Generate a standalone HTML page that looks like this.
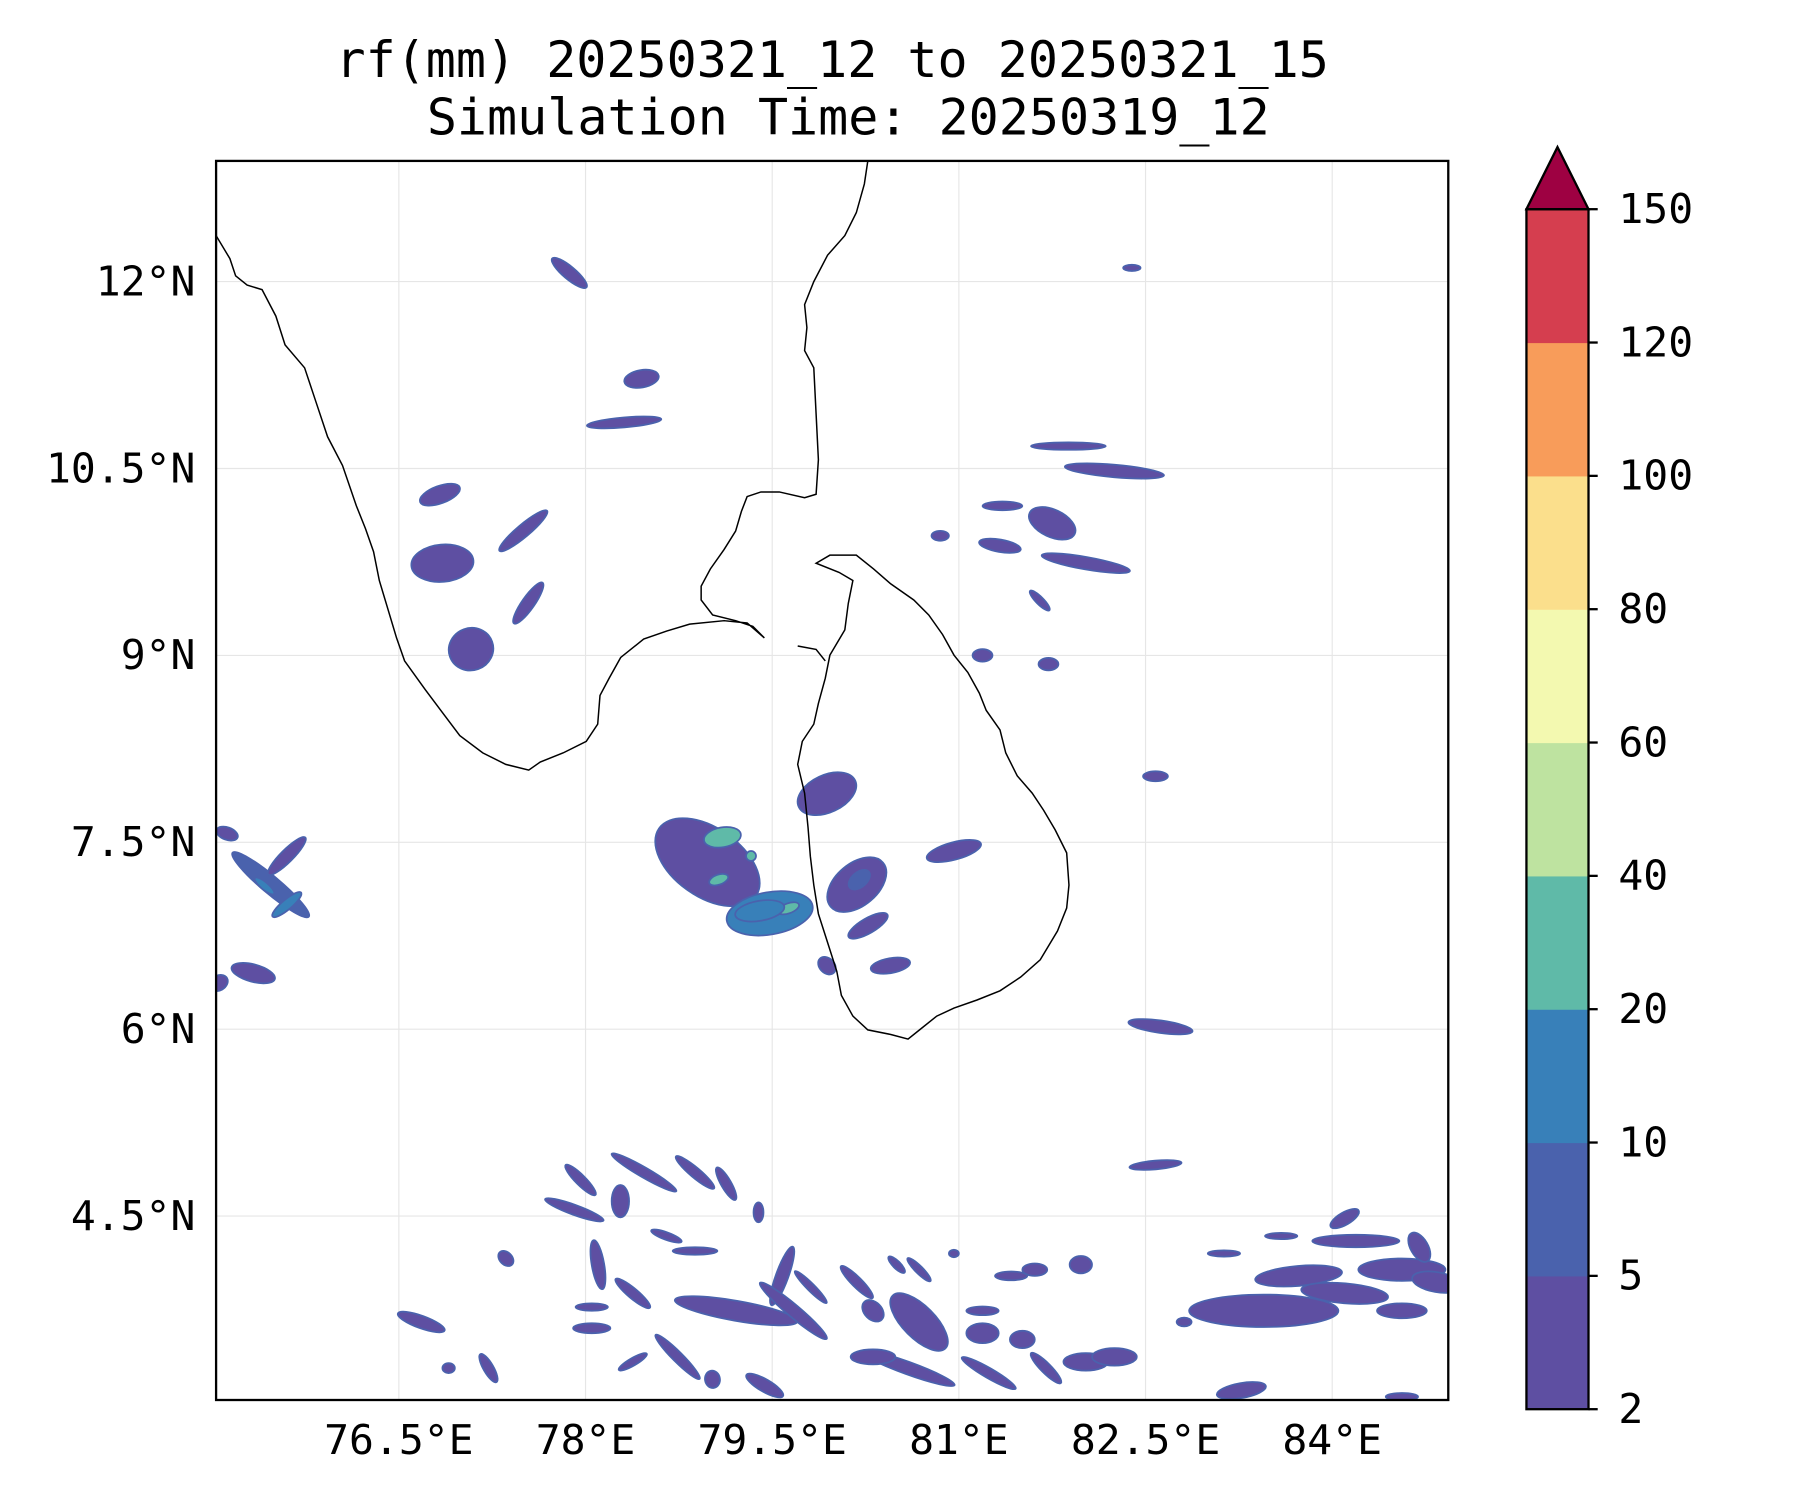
<!DOCTYPE html>
<html><head><meta charset="utf-8"><style>
html,body{margin:0;padding:0;background:#fff;}
svg{display:block;}
text{font-family:"DejaVu Sans Mono","Liberation Mono",monospace;fill:#000;}
</style></head>
<body>
<svg id="chart" width="1800" height="1500" viewBox="0 0 1566 1305" preserveAspectRatio="none" xmlns="http://www.w3.org/2000/svg">
<text x="724" y="67" font-size="43.5" text-anchor="middle">rf(mm) 20250321_12 to 20250321_15</text>
<text x="738" y="117" font-size="43.5" text-anchor="middle">Simulation Time: 20250319_12</text>
<defs><clipPath id="axclip"><rect x="188" y="140" width="1072" height="1078"/></clipPath></defs>
<g id="grid"></g>
<g id="rain" clip-path="url(#axclip)"></g>
<g clip-path="url(#axclip)" fill="none" stroke="#000" stroke-width="1.3">
<path d="M188,205 L200,225 L205,240 L215,248 L228,252 L240,275 L248,300 L265,320 L275,350 L285,380 L298,405 L310,440 L318,460 L325,480 L330,505 L336,525 L345,555 L352,575 L370,600 L385,620 L400,640 L420,655 L440,665 L460,670 L470,663 L490,655 L510,645 L520,630 L522,605 L530,590 L540,572 L560,556 L580,549 L600,543 L630,540 L650,542 L665,555 L655,545 L640,540 L620,535 L610,522 L610,510 L618,495 L630,478 L640,462 L645,445 L650,432 L662,428 L678,428 L700,433 L710,430 L712,400 L710,360 L708,320 L700,305 L702,285 L700,265 L708,245 L720,222 L735,205 L745,185 L752,160 L755,140"/>
<path d="M710,490 L722,483 L745,483 L760,495 L775,508 L795,522 L808,535 L820,552 L830,570 L842,585 L852,603 L858,618 L870,635 L875,655 L885,675 L898,690 L908,705 L918,722 L928,742 L930,770 L928,790 L920,810 L905,835 L888,850 L870,862 L850,870 L830,877 L815,884 L800,896 L790,904 L775,900 L755,896 L742,884 L732,866 L728,845 L720,820 L712,795 L708,770 L705,745 L703,720 L700,690 L694,665 L698,645 L708,630 L712,612 L718,590 L722,570 L735,548 L738,525 L742,505 L730,498 Z"/>
<path d="M694,562 L710,565 L718,575"/>
</g>
<rect x="188" y="140" width="1072" height="1078" fill="none" stroke="#000" stroke-width="2"/>
<g id="ticks"></g>
<g id="cbar"></g>
<script>
// ---- data ----
const latTicks=[12,10.5,9,7.5,6,4.5];
const latLabels=["12°N","10.5°N","9°N","7.5°N","6°N","4.5°N"];
const lonTicks=[76.5,78,79.5,81,82.5,84];
const lonLabels=["76.5°E","78°E","79.5°E","81°E","82.5°E","84°E"];
const cbLevels=[2,5,10,20,40,60,80,100,120,150];
const cbColors=["#5e4fa2","#4a62ad","#3880b9","#5fbaa8","#bee3a0","#f3f9b0","#fbdf8c","#f89c5a","#d53e4f"];
const extendColor="#9e0142";
// rain cells: centre lon, lat, width (deg), height (deg), rotation (deg), rainfall level (mm)
const cellLon=[77.87,78.45,78.31,76.83,76.85,77.5,77.54,77.08,79.94,78.98,79.48,80.18,80.96,80.45,80.27,79.94,75.47,75.6,75.12,75.33,75.05,81.75,82.02,81.33,82.25,81.88,81.35,82.62,82.58,82.58,81.19,81.72,81.65,80.85,82.39,75.6,
77.96,77.91,78.28,78.47,78.88,79.13,78.1,78.38,78.65,78.88,79.21,79.58,79.39,79.81,80.18,80.68,80.5,80.68,81.19,81.51,82.02,81.7,81.24,80.59,80.31,78.74,78.38,79.67,79.02,79.44,78.05,78.05,76.68,77.22,76.9,77.36,81.42,81.61,81.98,82.99,83.45,83.73,84.1,84.19,84.1,84.56,84.84,84.7,84.56,83.27,84.56,83.13,83.59,82.25,82.81,81.19,80.31,80.96];
const cellLat=[12.07,11.22,10.87,10.29,9.74,10.0,9.42,9.05,7.89,7.34,6.93,7.16,7.43,6.51,6.83,6.51,7.16,7.39,7.57,6.45,6.37,10.06,9.74,9.88,10.48,10.68,10.2,6.02,4.91,8.03,9.0,8.93,9.44,9.96,12.11,7.0,
4.79,4.55,4.62,4.85,4.85,4.76,4.11,3.88,4.34,4.22,3.74,4.02,4.53,3.93,3.97,3.65,4.11,4.07,3.56,3.51,3.33,3.28,3.24,3.28,3.37,3.37,3.33,3.74,3.19,3.14,3.6,3.77,3.65,3.28,3.28,4.16,4.02,4.07,4.11,3.74,3.74,4.02,3.88,4.3,4.48,4.07,3.97,4.25,3.74,3.1,3.05,4.2,4.34,3.37,3.65,3.74,3.74,4.2];
const cellW=[0.36,0.14,0.6,0.34,0.3,0.5,0.4,0.34,0.3,0.95,0.7,0.55,0.14,0.12,0.36,0.16,0.8,0.42,0.18,0.36,0.16,0.4,0.72,0.34,0.8,0.6,0.32,0.52,0.42,0.2,0.16,0.16,0.22,0.14,0.14,0.3,
0.34,0.5,0.14,0.6,0.4,0.3,0.4,0.36,0.26,0.36,1.0,0.5,0.08,0.36,0.36,0.6,0.18,0.26,0.26,0.2,0.36,0.34,0.5,0.8,0.36,0.5,0.26,0.7,0.14,0.34,0.3,0.26,0.4,0.26,0.1,0.14,0.26,0.2,0.18,0.2,1.2,0.7,0.7,0.7,0.26,0.7,0.4,0.26,0.4,0.4,0.26,0.26,0.26,0.36,0.12,0.26,0.2,0.08];
const cellH=[0.1,0.28,0.08,0.14,0.5,0.1,0.1,0.36,0.5,0.55,0.34,0.34,0.45,0.32,0.12,0.12,0.14,0.1,0.1,0.14,0.12,0.22,0.1,0.1,0.1,0.06,0.07,0.1,0.07,0.08,0.1,0.1,0.06,0.08,0.05,0.08,
0.08,0.08,0.26,0.08,0.08,0.08,0.1,0.08,0.06,0.06,0.16,0.1,0.16,0.06,0.08,0.26,0.06,0.06,0.16,0.14,0.14,0.08,0.08,0.1,0.12,0.08,0.06,0.1,0.12,0.1,0.08,0.06,0.1,0.08,0.08,0.1,0.07,0.1,0.14,0.07,0.26,0.16,0.16,0.1,0.1,0.18,0.16,0.14,0.12,0.12,0.06,0.05,0.05,0.14,0.07,0.07,0.14,0.06];
const cellAngle=[40,80,-5,-20,85,-40,-55,70,65,35,-10,-40,75,80,-30,45,40,-45,20,15,-30,25,10,10,5,0,0,8,-5,0,0,0,45,0,0,-40,
45,20,0,30,40,60,80,40,20,0,10,-70,0,45,45,45,45,45,0,0,0,45,30,20,0,45,-30,40,80,30,0,0,20,60,0,45,0,0,0,0,0,-5,5,0,-30,0,10,60,0,-10,0,0,0,0,0,0,45,0];
const cellLevel=[3,3,3,3,3,3,3,3,4,4,12,4,3,3,3,3,6,4,3,3,3,3,3,3,3,3,3,3,3,3,3,3,3,3,3,12,
3,3,3,3,3,3,3,3,3,3,4,4,3,3,3,3,3,3,3,3,3,3,3,3,3,3,3,3,3,3,3,3,3,3,3,3,3,3,3,3,3,3,3,3,3,3,3,3,3,3,3,3,3,3,3,3,3,3];
// embedded heavier cores
const coreLon=[79.1,79.33,79.07,79.63,79.4,75.42,80.2];
const coreLat=[7.54,7.39,7.2,6.97,6.95,7.15,7.2];
const coreW=[0.16,0.08,0.16,0.18,0.4,0.2,0.2];
const coreH=[0.3,0.08,0.08,0.08,0.16,0.06,0.12];
const coreAngle=[80,0,-20,-20,-10,40,-40];
const coreLevel=[25,25,25,25,12,12,7];

// ---- axes ----
const x=lon=>347+(lon-76.5)*108.27;
const y=lat=>245-(lat-12)*108.4;
const NS="http://www.w3.org/2000/svg";
function mk(tag,parent){const e=document.createElementNS(NS,tag);parent.appendChild(e);return e;}
function colorFor(v){for(let i=cbLevels.length-2;i>=0;i--){if(v>=cbLevels[i])return cbColors[i];}return cbColors[0];}

const grid=document.getElementById('grid');
latTicks.forEach(t=>{const l=mk('line',grid);


l.setAttribute('x1',188);l.setAttribute('x2',1260);l.setAttribute('y1',y(t));l.setAttribute('y2',y(t));l.setAttribute('stroke','#e6e6e6');l.setAttribute('stroke-width','1');});
lonTicks.forEach(t=>{const l=mk('line',grid);


l.setAttribute('y1',140);l.setAttribute('y2',1218);l.setAttribute('x1',x(t));l.setAttribute('x2',x(t));l.setAttribute('stroke','#e6e6e6');l.setAttribute('stroke-width','1');});

const rain=document.getElementById('rain');
function drawCell(lon,lat,w,h,a,lv,nm){
  const e=mk('ellipse',rain);
  
  
  const cx=x(lon),cy=y(lat);
  e.setAttribute('cx',cx);e.setAttribute('cy',cy);
  e.setAttribute('rx',w*108.27/2);e.setAttribute('ry',h*108.4/2);
  e.setAttribute('transform','rotate('+a+' '+cx+' '+cy+')');
  e.setAttribute('fill',colorFor(lv));
  e.setAttribute('stroke','#4a62ad');e.setAttribute('stroke-width','1.5');
}
cellLon.forEach((v,i)=>drawCell(v,cellLat[i],cellW[i],cellH[i],cellAngle[i],cellLevel[i],'rain-cell'));
coreLon.forEach((v,i)=>drawCell(v,coreLat[i],coreW[i],coreH[i],coreAngle[i],coreLevel[i],'rain-core'));

const ticks=document.getElementById('ticks');
latTicks.forEach((t,i)=>{const tx=mk('text',ticks);


tx.setAttribute('x',170);tx.setAttribute('y',y(t)+12);tx.setAttribute('font-size','36');tx.setAttribute('text-anchor','end');tx.textContent=latLabels[i];});
lonTicks.forEach((t,i)=>{const tx=mk('text',ticks);


tx.setAttribute('x',x(t));tx.setAttribute('y',1265);tx.setAttribute('font-size','36');tx.setAttribute('text-anchor','middle');tx.textContent=lonLabels[i];});

// ---- colorbar ----
const cb=document.getElementById('cbar');
const cbTop=182,cbBot=1226,cbL=1328,cbR=1382;
const seg=(cbBot-cbTop)/(cbLevels.length-1);
const cy=i=>cbBot-i*seg;
cbColors.forEach((c,i)=>{const r=mk('rect',cb);


r.setAttribute('x',cbL);r.setAttribute('width',cbR-cbL);r.setAttribute('y',cy(i+1));r.setAttribute('height',seg+0.5);r.setAttribute('fill',c);});
const tri=mk('polygon',cb);


tri.setAttribute('points',cbL+','+cbTop+' '+(cbL+cbR)/2+',128 '+cbR+','+cbTop);
tri.setAttribute('fill',extendColor);tri.setAttribute('stroke','#000');tri.setAttribute('stroke-width','2');
const fr=mk('rect',cb);


fr.setAttribute('x',cbL);fr.setAttribute('y',cbTop);fr.setAttribute('width',cbR-cbL);fr.setAttribute('height',cbBot-cbTop);fr.setAttribute('fill','none');fr.setAttribute('stroke','#000');fr.setAttribute('stroke-width','2');
cbLevels.forEach((v,i)=>{const l=mk('line',cb);


l.setAttribute('x1',cbR);l.setAttribute('x2',cbR+8);l.setAttribute('y1',cy(i));l.setAttribute('y2',cy(i));l.setAttribute('stroke','#000');l.setAttribute('stroke-width','2');
const t=mk('text',cb);


t.setAttribute('x',1408);t.setAttribute('y',cy(i)+12);t.setAttribute('font-size','36');t.textContent=v;});
</script>
</svg>
</body></html>
